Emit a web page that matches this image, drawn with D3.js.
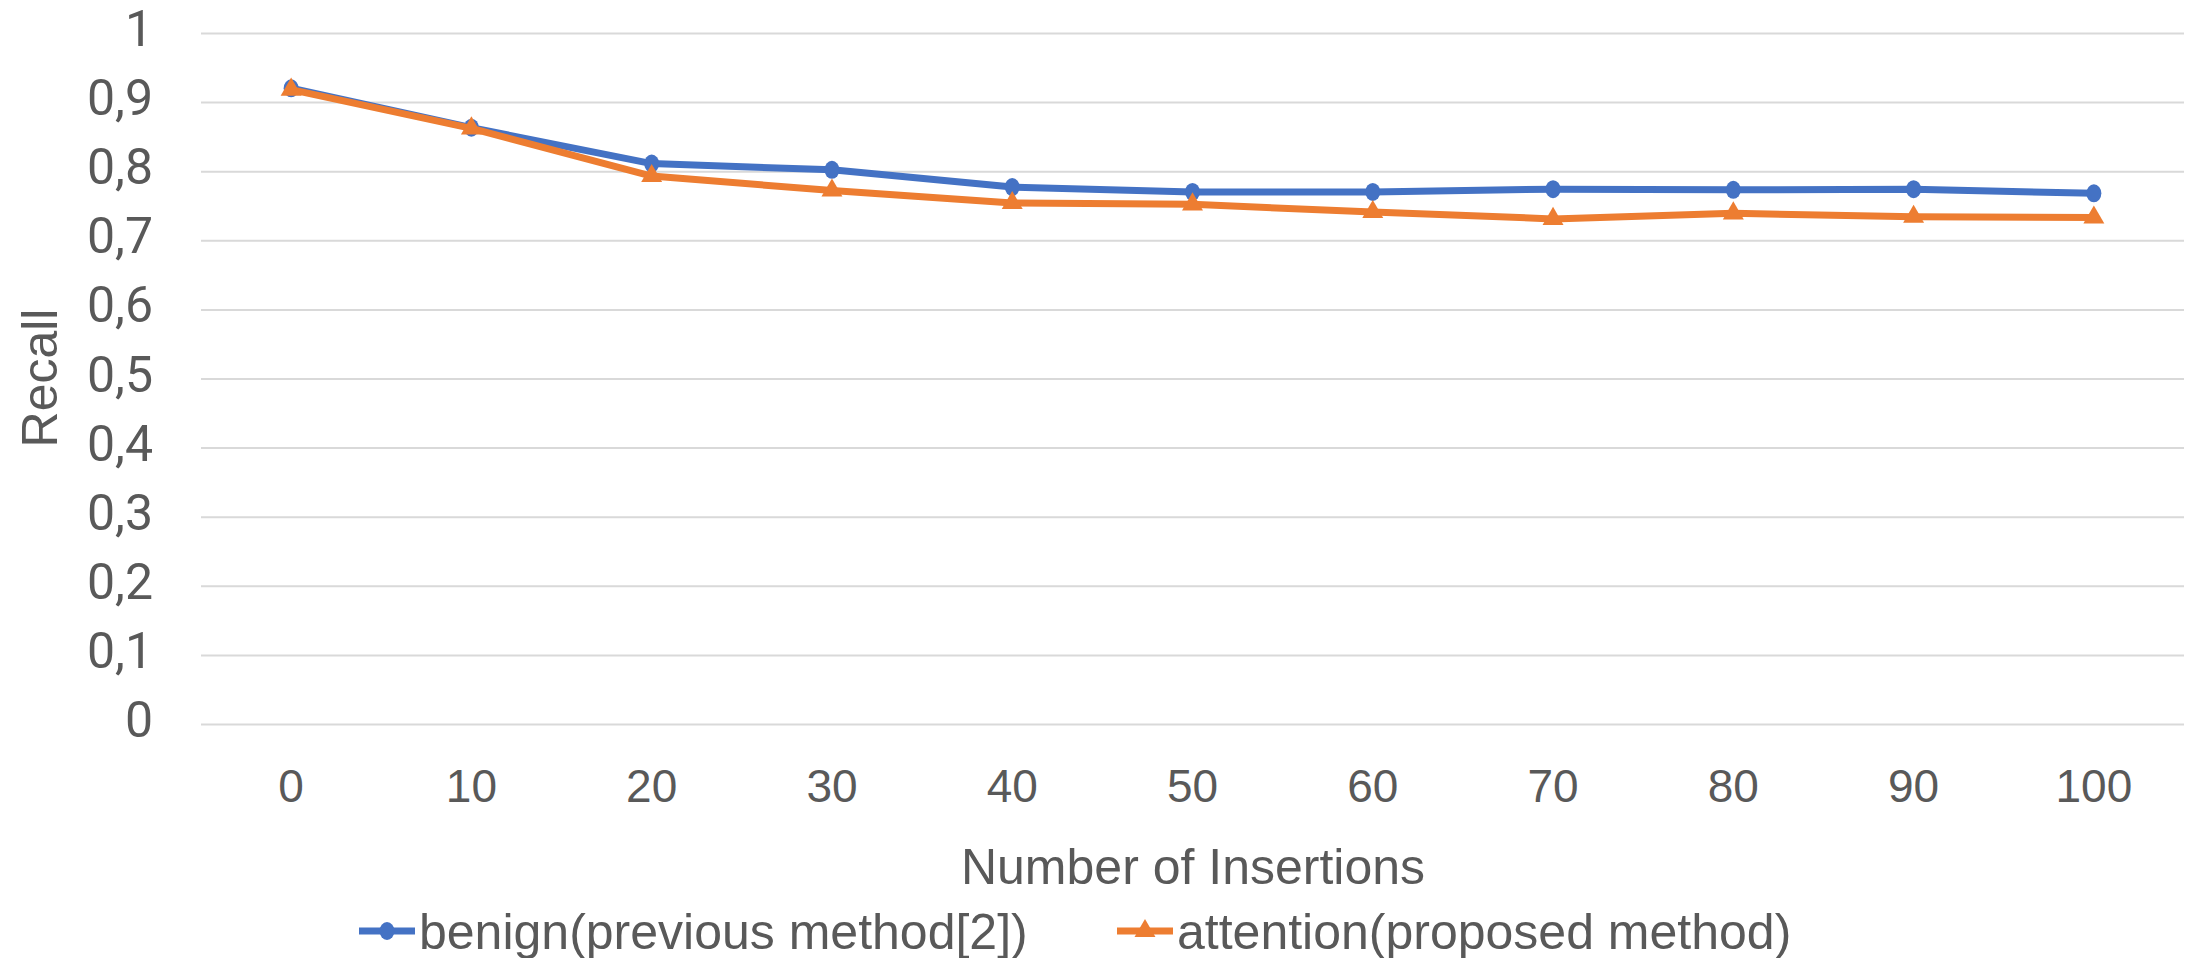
<!doctype html>
<html>
<head>
<meta charset="utf-8"/>
<title>Recall vs Number of Insertions</title>
<style>
body{margin:0;background:#fff;}
</style>
<script src="https://d3js.org/d3.v7.min.js"></script>
</head>
<body>
<script type="text/javascript">
// data
var insertions = ["0","10","20","30","40","50","60","70","80","90","100"];
var benign    = [0.920,0.863,0.811,0.802,0.777,0.770,0.770,0.774,0.773,0.774,0.768];
var attention = [0.918,0.862,0.793,0.772,0.754,0.752,0.741,0.731,0.739,0.734,0.733];
var yTicks = [0,0.1,0.2,0.3,0.4,0.5,0.6,0.7,0.8,0.9,1];
var seriesNames = ["benign(previous method[2])","attention(proposed method)"];

var W = 2189, H = 958;
var blue = "#4472C4", orange = "#ED7D31", txt = "#595959";
var font = "'Liberation Sans', Arial, sans-serif";

var svg = d3.select("body").append("svg")
  .attr("width", W).attr("height", H);

var x = d3.scaleBand().domain(insertions).range([201, 2184]).padding(0);
var y = d3.scaleLinear().domain([0, 1]).range([724, 33]);

// gridlines + y labels
var yAxis = svg.append("g")
  .attr("transform", "translate(201,0)")
  .call(d3.axisLeft(y).tickValues(yTicks).tickSize(-(2184-201)).tickPadding(48)
    .tickFormat(function(d){ return d3.format(".1~f")(d).replace(".", ","); }));
yAxis.select(".domain").remove();
yAxis.selectAll("line").attr("stroke", "#D9D9D9").attr("stroke-width", 2);
yAxis.selectAll("text")
  .attr("fill", txt)
  .style("font-family", "Roboto, 'Liberation Sans', sans-serif")
  .style("font-size", "50px")
  .attr("dy", "0.25em");

// x labels
var xAxis = svg.append("g")
  .attr("transform", "translate(0,724)")
  .call(d3.axisBottom(x).tickSize(0).tickPadding(0));
xAxis.select(".domain").remove();
xAxis.selectAll("text")
  .attr("y", 62).attr("dy", "0.35em")
  .attr("fill", txt)
  .style("font-family", font)
  .style("font-size", "46px");

// axis titles
svg.append("text")
  .attr("x", 1193).attr("y", 866).attr("dy", "0.35em")
  .attr("text-anchor", "middle")
  .attr("fill", txt)
  .style("font-family", font)
  .style("font-size", "50px")
  .text("Number of Insertions");

svg.append("text")
  .attr("transform", "translate(39,378) rotate(-90)")
  .attr("dy", "0.35em")
  .attr("text-anchor", "middle")
  .attr("fill", txt)
  .style("font-family", font)
  .style("font-size", "50px")
  .text("Recall");

function cx(d, i){ return x(insertions[i]) + x.bandwidth()/2; }

var line = d3.line()
  .x(function(d, i){ return cx(d, i); })
  .y(function(d){ return y(d); });

var tri = d3.symbol().type(d3.symbolTriangle).size(190);

// benign series
svg.append("path").datum(benign)
  .attr("d", line).attr("fill", "none")
  .attr("stroke", blue).attr("stroke-width", 7).attr("stroke-linejoin", "round");
svg.selectAll(".pt-b").data(benign).enter().append("ellipse")
  .attr("class", "pt-b")
  .attr("cx", cx).attr("cy", function(d){ return y(d); })
  .attr("rx", 7.5).attr("ry", 9)
  .attr("fill", blue);

// attention series
svg.append("path").datum(attention)
  .attr("d", line).attr("fill", "none")
  .attr("stroke", orange).attr("stroke-width", 7).attr("stroke-linejoin", "round");
svg.selectAll(".pt-a").data(attention).enter().append("path")
  .attr("class", "pt-a")
  .attr("d", tri)
  .attr("transform", function(d, i){ return "translate(" + cx(d, i) + "," + y(d) + ")"; })
  .attr("fill", orange);

// legend
var legY = 931;
var legX = [359, 1117];
var legG = svg.selectAll(".leg").data(seriesNames).enter().append("g")
  .attr("class", "leg")
  .attr("transform", function(d, i){ return "translate(" + legX[i] + "," + legY + ")"; });
legG.append("line")
  .attr("x1", 0).attr("x2", 56).attr("y1", 0).attr("y2", 0)
  .attr("stroke", function(d, i){ return i == 0 ? blue : orange; })
  .attr("stroke-width", 7);
legG.each(function(d, i){
  var g = d3.select(this);
  if (i == 0) {
    g.append("ellipse").attr("cx", 28).attr("cy", 0).attr("rx", 7.5).attr("ry", 9).attr("fill", blue);
  } else {
    g.append("path").attr("d", tri).attr("transform", "translate(28,0)").attr("fill", orange);
  }
});
legG.append("text")
  .attr("x", 60).attr("y", 0).attr("dy", "0.35em")
  .attr("fill", txt)
  .style("font-family", font)
  .style("font-size", "50px")
  .text(function(d){ return d; });
</script>
</body>
</html>
